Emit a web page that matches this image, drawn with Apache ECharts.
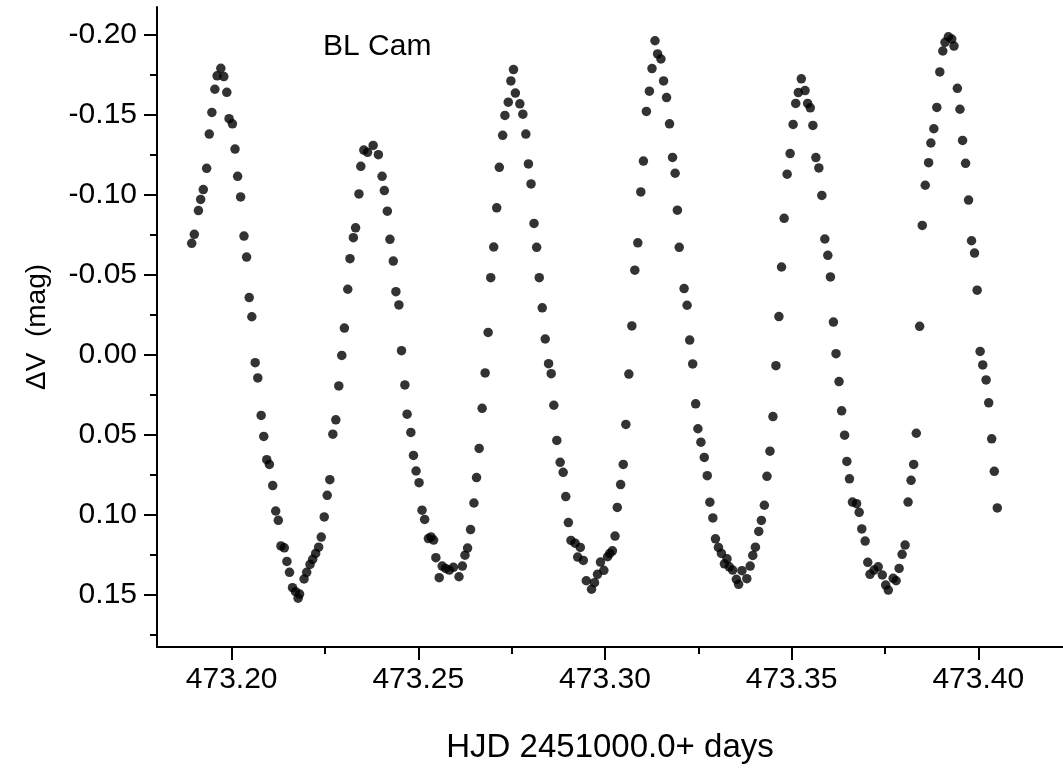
<!DOCTYPE html>
<html>
<head>
<meta charset="utf-8">
<script src="https://cdn.jsdelivr.net/npm/echarts@6/dist/echarts.min.js"></script>
<style>
html,body{margin:0;padding:0;background:#fff;}
#chart{width:1063px;height:774px;}
</style>
</head>
<body>
<div id="chart"></div>
<script>
// HJD - 2451000.0 (days)
const hjd = [
473.1893,473.1900,473.1911,473.1917,473.1924,473.1933,473.1940,473.1947,473.1955,473.1961,
473.1971,473.1979,473.1987,473.1993,473.2002,473.2009,473.2016,473.2024,473.2033,473.2040,
473.2047,473.2054,473.2063,473.2070,473.2079,473.2086,473.2094,473.2101,473.2110,473.2118,
473.2125,473.2132,473.2141,473.2148,473.2155,473.2163,473.2171,473.2178,473.2182,473.2194,
473.2201,473.2210,473.2217,473.2225,473.2233,473.2240,473.2248,473.2256,473.2263,473.2271,
473.2279,473.2287,473.2295,473.2302,
473.2311,473.2317,473.2326,473.2332,473.2341,473.2346,473.2354,473.2364,473.2379,473.2393,
473.2403,473.2409,473.2417,473.2424,473.2433,473.2440,473.2448,473.2455,473.2464,473.2470,
473.2480,473.2487,473.2494,473.2502,473.2510,473.2517,473.2527,473.2534,473.2541,473.2547,
473.2556,473.2564,473.2573,473.2583,473.2594,473.2609,473.2618,473.2625,473.2632,473.2640,
473.2649,473.2656,473.2663,473.2671,473.2679,473.2687,
473.2694,473.2702,473.2710,473.2717,473.2726,473.2732,473.2741,473.2748,473.2755,473.2760,
473.2772,473.2780,473.2788,473.2795,473.2802,473.2810,473.2817,473.2824,473.2832,473.2840,
473.2849,473.2856,473.2863,473.2871,473.2880,473.2888,473.2895,473.2902,473.2909,473.2920,
473.2927,473.2934,473.2942,473.2950,473.2964,473.2972,473.2980,473.2988,473.2997,473.3007,
473.3013,473.3020,473.3027,473.3033,473.3042,473.3049,473.3056,473.3064,473.3072,
473.3080,473.3088,473.3096,473.3103,473.3111,473.3119,473.3126,473.3134,473.3141,473.3150,
473.3157,473.3165,473.3173,473.3181,473.3188,473.3194,473.3199,473.3212,473.3220,473.3227,
473.3235,473.3243,473.3249,473.3257,473.3266,473.3274,473.3281,473.3289,473.3296,473.3304,
473.3312,473.3320,473.3327,473.3333,473.3342,473.3352,473.3358,473.3367,473.3380,473.3389,
473.3396,473.3403,473.3412,473.3419,473.3427,473.3434,473.3442,473.3450,473.3458,473.3466,
473.3473,473.3480,473.3488,473.3496,473.3504,473.3511,473.3518,473.3526,473.3536,473.3543,
473.3550,473.3557,473.3565,473.3573,473.3581,473.3589,473.3597,473.3604,473.3612,473.3619,
473.3627,473.3634,473.3642,473.3648,473.3655,473.3663,473.3674,473.3681,473.3688,473.3697,
473.3704,473.3710,473.3721,473.3732,473.3743,473.3752,473.3759,473.3772,473.3780,473.3788,
473.3796,473.3804,473.3812,473.3820,473.3827,473.3834,473.3843,
473.3850,473.3858,473.3867,473.3873,473.3881,473.3889,473.3897,473.3905,473.3911,473.3920,
473.3929,473.3935,473.3944,473.3951,473.3958,473.3966,473.3974,473.3982,473.3990,473.3997,
473.4005,473.4012,473.4021,473.4028,473.4036,473.4043,473.4051
];
// Delta V (mag)
const dV = [
-0.0698,-0.0754,-0.0903,-0.0972,-0.1034,-0.1167,-0.1381,-0.1516,-0.1661,-0.1745,
-0.1792,-0.1740,-0.1642,-0.1477,-0.1445,-0.1287,-0.1117,-0.0988,-0.0743,-0.0612,
-0.0359,-0.0239,0.0048,0.0143,0.0378,0.0509,0.0654,0.0684,0.0816,0.0975,
0.1033,0.1193,0.1205,0.1290,0.1358,0.1454,0.1479,0.1520,0.1494,0.1400,
0.1358,0.1309,0.1277,0.1240,0.1201,0.1138,0.1012,0.0877,0.0779,0.0495,
0.0405,0.0193,0.0003,-0.0168,
-0.0411,-0.0602,-0.0733,-0.0795,-0.1007,-0.1179,-0.1281,-0.1267,-0.1310,-0.1252,
-0.1117,-0.1028,-0.0899,-0.0723,-0.0587,-0.0396,-0.0313,-0.0027,0.0187,0.0370,
0.0484,0.0628,0.0725,0.0798,0.0970,0.1028,0.1147,0.1137,0.1157,0.1267,
0.1392,0.1319,0.1334,0.1344,0.1327,0.1386,0.1319,0.1251,0.1207,0.1091,
0.0925,0.0766,0.0584,0.0333,0.0112,-0.0141,
-0.0483,-0.0675,-0.0920,-0.1173,-0.1373,-0.1497,-0.1580,-0.1713,-0.1784,-0.1637,
-0.1570,-0.1505,-0.1381,-0.1194,-0.1069,-0.0822,-0.0673,-0.0483,-0.0295,-0.0100,
0.0054,0.0117,0.0314,0.0534,0.0671,0.0733,0.0885,0.1047,0.1159,0.1176,
0.1263,0.1203,0.1284,0.1411,0.1464,0.1423,0.1371,0.1294,0.1346,0.1261,
0.1240,0.1224,0.1132,0.0953,0.0810,0.0684,0.0434,0.0119,-0.0182,
-0.0530,-0.0701,-0.1019,-0.1212,-0.1522,-0.1649,-0.1790,-0.1964,-0.1882,-0.1850,
-0.1713,-0.1609,-0.1445,-0.1235,-0.1136,-0.0905,-0.0673,-0.0415,-0.0311,-0.0093,
0.0056,0.0305,0.0461,0.0545,0.0640,0.0754,0.0920,0.1018,0.1149,0.1203,
0.1240,0.1305,0.1274,0.1324,0.1344,0.1402,0.1433,0.1348,0.1398,0.1319,
0.1253,0.1201,0.1103,0.1034,0.0939,0.0758,0.0601,0.0385,0.0067,-0.0240,
-0.0550,-0.0854,-0.1130,-0.1259,-0.1441,-0.1572,-0.1640,-0.1726,-0.1653,-0.1572,
-0.1545,-0.1435,-0.1234,-0.1169,-0.0997,-0.0725,-0.0623,-0.0488,-0.0206,-0.0008,
0.0166,0.0349,0.0501,0.0665,0.0774,0.0919,0.0929,0.0983,0.1087,0.1163,
0.1296,0.1371,0.1344,0.1324,0.1375,0.1438,0.1469,0.1396,0.1411,0.1334,
0.1246,0.1188,0.0919,0.0783,0.0684,0.0489,-0.0179,
-0.0810,-0.1061,-0.1202,-0.1325,-0.1414,-0.1547,-0.1769,-0.1900,-0.1954,-0.1989,
-0.1975,-0.1931,-0.1667,-0.1536,-0.1341,-0.1198,-0.0968,-0.0714,-0.0637,-0.0405,
-0.0022,0.0062,0.0156,0.0299,0.0524,0.0727,0.0956
];
const xTicks = [473.20, 473.25, 473.30, 473.35, 473.40];
const xMinorTicks = [473.225, 473.275, 473.325, 473.375];
const yTicks = [-0.20, -0.15, -0.10, -0.05, 0.00, 0.05, 0.10, 0.15];
const yMinorTicks = [-0.175, -0.125, -0.075, -0.025, 0.025, 0.075, 0.125, 0.175];
const starName = 'BL Cam';
const xTitle = 'HJD 2451000.0+ days';
const yTitle = '\u0394V  (mag)';

const X_MIN = 473.180, X_MAX = 473.4227;
const Y_MIN = -0.2175, Y_MAX = 0.1825;
const FONT = '"Liberation Sans", Arial, sans-serif';

const points = hjd.map((x, i) => [x, dV[i]]);

const chart = echarts.init(document.getElementById('chart'), null, {renderer: 'canvas'});
chart.setOption({
  animation: false,
  backgroundColor: '#fff',
  grid: {left: 157, top: 7, right: 0, bottom: 127, containLabel: false},
  xAxis: [
    {
      type: 'value', min: X_MIN, max: X_MAX, position: 'bottom',
      axisLine: {show: true, onZero: false, lineStyle: {color: '#000', width: 2}},
      axisTick: {show: true, customValues: xTicks, length: 13, lineStyle: {color: '#000', width: 2}},
      axisLabel: {show: true, customValues: xTicks, formatter: v => v.toFixed(2),
        color: '#000', fontSize: 30, fontFamily: FONT, margin: 18},
      splitLine: {show: false},
      name: xTitle, nameLocation: 'middle', nameGap: 84,
      nameTextStyle: {color: '#000', fontSize: 33, fontFamily: FONT}
    },
    {
      type: 'value', min: X_MIN, max: X_MAX, position: 'bottom', offset: 0,
      axisLine: {show: false, onZero: false},
      axisTick: {show: true, customValues: xMinorTicks, length: 7, lineStyle: {color: '#000', width: 2}},
      axisLabel: {show: false},
      splitLine: {show: false}
    }
  ],
  yAxis: [
    {
      type: 'value', min: Y_MIN, max: Y_MAX, inverse: true, position: 'left',
      axisLine: {show: true, onZero: false, lineStyle: {color: '#000', width: 2}},
      axisTick: {show: true, customValues: yTicks, length: 13, lineStyle: {color: '#000', width: 2}},
      axisLabel: {show: true, customValues: yTicks, formatter: v => v.toFixed(2),
        color: '#000', fontSize: 30, fontFamily: FONT, margin: 20},
      splitLine: {show: false},
      name: yTitle, nameLocation: 'middle', nameGap: 106, nameRotate: 90,
      nameTextStyle: {color: '#000', fontSize: 28, fontFamily: FONT}
    },
    {
      type: 'value', min: Y_MIN, max: Y_MAX, inverse: true, position: 'left', offset: 0,
      axisLine: {show: false, onZero: false},
      axisTick: {show: true, customValues: yMinorTicks, length: 7, lineStyle: {color: '#000', width: 2}},
      axisLabel: {show: false},
      splitLine: {show: false}
    }
  ],
  graphic: [
    {type: 'text', left: 323, top: 32,
     style: {text: starName, fill: '#000', font: '30px ' + FONT}}
  ],
  series: [
    {
      type: 'scatter', xAxisIndex: 0, yAxisIndex: 0,
      data: points, symbol: 'circle', symbolSize: 9.5,
      itemStyle: {color: '#000'}, silent: true
    }
  ]
});
</script>
</body>
</html>
